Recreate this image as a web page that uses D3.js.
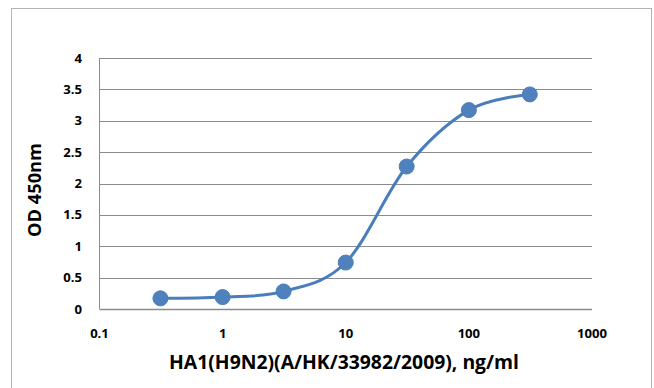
<!DOCTYPE html>
<html><head><meta charset="utf-8">
<script src="https://cdn.jsdelivr.net/npm/d3@7/dist/d3.min.js"></script>
<style>body{margin:0;background:#fff;} svg{display:block;}</style>
</head><body>
<svg id="c" width="654" height="388"></svg>
<script>
const concentrations = [0.3125, 1, 3.125, 10, 31.25, 100, 312.5];
const odValues = [0.17, 0.19, 0.28, 0.74, 2.27, 3.17, 3.42];
const xTicks = [0.1, 1, 10, 100, 1000];
const xTickLabels = ["0.1", "1", "10", "100", "1000"];
const yTicks = [0, 0.5, 1, 1.5, 2, 2.5, 3, 3.5, 4];
const xTitle = "HA1(H9N2)(A/HK/33982/2009), ng/ml";
const yTitle = "OD 450nm";

const svg = d3.select("#c");
const font = "'Open Sans', 'Liberation Sans', sans-serif";
const L = 99.5, R = 592, T = 58, B = 309;

function fit(sel, target) {
  const w = sel.node().getComputedTextLength();
  const fs = parseFloat(sel.attr("font-size"));
  sel.attr("font-size", fs * target / w);
}

svg.append("rect").attr("x", 11.5).attr("y", 8.5).attr("width", 640).attr("height", 390)
  .attr("fill", "#fff").attr("stroke", "#b3b3b3").attr("stroke-width", 1);

const x = d3.scaleLog().domain([0.1, 1000]).range([L, R]);
const y = d3.scaleLinear().domain([0, 4]).range([B, T]);

svg.append("g").selectAll("line").data(yTicks.filter(d => d > 0)).join("line")
  .attr("x1", L).attr("x2", R).attr("y1", d => Math.round(y(d)) + 0.5).attr("y2", d => Math.round(y(d)) + 0.5)
  .attr("stroke", "#8c8c8c").attr("stroke-width", 1);

svg.append("line").attr("x1", L).attr("x2", L).attr("y1", T).attr("y2", B)
  .attr("stroke", "#8c8c8c").attr("stroke-width", 1);
svg.append("line").attr("x1", L).attr("x2", R).attr("y1", B + 0.5).attr("y2", B + 0.5)
  .attr("stroke", "#8c8c8c").attr("stroke-width", 1.5);

// measure tick font size from "1000" target width
const probe = svg.append("text").attr("font-family", font).attr("font-weight", "bold")
  .attr("font-size", 12).text("1000");
fit(probe, 30);
const tickFs = parseFloat(probe.attr("font-size"));
probe.remove();

svg.append("g").selectAll("text").data(yTicks).join("text")
  .attr("x", 82).attr("y", d => y(d)).attr("dy", "0.35em").attr("text-anchor", "end")
  .attr("font-family", font).attr("font-weight", "bold").attr("font-size", tickFs).attr("fill", "#000")
  .text(d => d3.format("~g")(d));

svg.append("g").selectAll("text").data(xTicks).join("text")
  .attr("x", d => x(d)).attr("y", 333).attr("dy", "0.35em").attr("text-anchor", "middle")
  .attr("font-family", font).attr("font-weight", "bold").attr("font-size", tickFs).attr("fill", "#000")
  .text((d, i) => xTickLabels[i]);

const xt = svg.append("text").attr("x", 344).attr("y", 369).attr("text-anchor", "middle")
  .attr("font-family", font).attr("font-weight", "bold").attr("font-size", 15).attr("fill", "#000")
  .text(xTitle);
fit(xt, 350);
const yt = svg.append("text").attr("transform", "translate(41,190) rotate(-90)").attr("text-anchor", "middle")
  .attr("font-family", font).attr("font-weight", "bold").attr("font-size", 15).attr("fill", "#000")
  .text(yTitle);
fit(yt, 94);

const data = concentrations.map((c, i) => ({c, v: odValues[i]}));
const line = d3.line().x(d => x(d.c)).y(d => y(d.v)).curve(d3.curveCardinal.tension(0));
svg.append("path").datum(data).attr("d", line).attr("fill", "none")
  .attr("stroke", "#4a7ebb").attr("stroke-width", 3);
svg.append("g").selectAll("circle").data(data).join("circle")
  .attr("cx", d => x(d.c)).attr("cy", d => y(d.v)).attr("r", 7.5)
  .attr("fill", "#4f81bd").attr("stroke", "#4a7ebb").attr("stroke-width", 1);
</script>
</body></html>
